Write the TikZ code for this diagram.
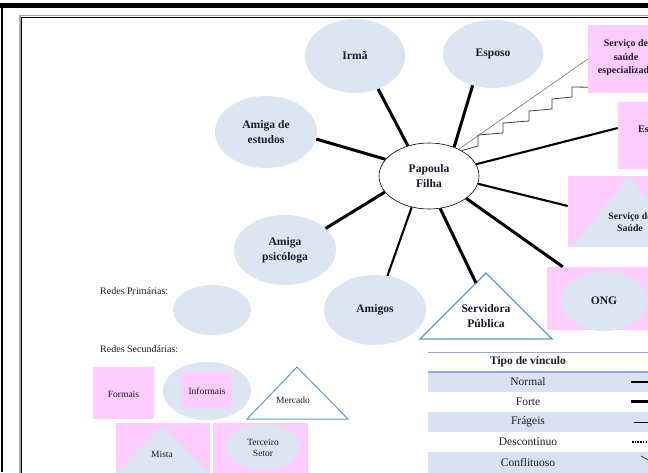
\documentclass[tikz,border=0pt]{standalone}
\usepackage{fontspec}
\setmainfont{Liberation Serif}
\usetikzlibrary{shapes.geometric,calc}
\definecolor{bubble}{HTML}{DCE6F2}
\definecolor{pinkfill}{HTML}{FFCCFF}
\definecolor{triblue}{HTML}{5B9BD5}
\definecolor{rowfill}{HTML}{D9E2F3}
\definecolor{rulecol}{HTML}{8EAADB}
\definecolor{ink}{HTML}{1A1A2E}
\newcommand\mainlbl{\fontsize{11.6}{15}\selectfont\bfseries}
\newcommand\keylbl{\fontsize{9.5}{11}\selectfont}
\newcommand\tablbl{\fontsize{11.5}{13}\selectfont}
\tikzset{
  bub/.style={ellipse, fill=bubble, draw=none, inner sep=0pt, align=center,
    text=ink, font=\mainlbl},
  pinkbox/.style={rectangle, fill=pinkfill, draw=none, inner sep=0pt},
  lbl/.style={inner sep=0pt, align=center, text=ink},
  linkthick/.style={line width=3pt},
  linkmed/.style={line width=2.1pt},
  linkthin/.style={line width=0.6pt, draw=black!55},
  linkzig/.style={line width=0.8pt, draw=black!75, line join=miter},
  tri/.style={draw=triblue, line width=1.2pt, fill=white, line join=miter},
}
\begin{document}
\begin{tikzpicture}[x=1pt,y=-1pt]
\useasboundingbox (0,0) rectangle (648,472);
\clip (0,0) rectangle (648,472);
\fill[white] (0,0) rectangle (648,472);

% page frame
\draw[line width=5pt] (0,5.5) -- (648,5.5);
\draw[line width=2.4pt] (2.2,3) -- (2.2,472);
\draw[black!35, line width=1.6pt] (19.8,480) -- (19.8,15.6) -- (660,15.6);
\draw[line width=1.6pt] (21.6,480) -- (21.6,17.6) -- (660,17.6);

% primary network
\node[bub, minimum width=100pt, minimum height=74pt] (irma) at (355,56) {Irmã};
\node[bub, minimum width=100pt, minimum height=68pt] (esposo) at (493,54) {Esposo};
\node[bub, minimum width=102pt, minimum height=72pt] (estudos) at (266,132) {Amiga de\\estudos};
\node[bub, minimum width=102pt, minimum height=70pt] (psic) at (285,250) {Amiga\\psicóloga};
\node[bub, minimum width=102pt, minimum height=70pt] (amigos) at (375,310) {Amigos};

% secondary network
\node[pinkbox, minimum width=76pt, minimum height=68pt] (esp) at (626,59) {};
\node[lbl, font=\fontsize{10}{13.5}\selectfont\bfseries] (espt) at (626,58) {Serviço de\\saúde\\especializado};

\node[pinkbox, minimum width=74pt, minimum height=67pt] (esc) at (655,135.5) {};
\node[lbl, font=\fontsize{10}{12}\selectfont\bfseries] (esct) at (652,129) {Escola};

\node[pinkbox, minimum width=122pt, minimum height=71pt] (ss) at (629,211.5) {};
\fill[bubble] (629,176) -- (686,247) -- (572,247) -- cycle;
\node[lbl, font=\fontsize{9.8}{11.5}\selectfont\bfseries] (sst) at (630,222) {Serviço de\\Saúde};

\node[pinkbox, minimum width=114pt, minimum height=63pt] (ong) at (604,298.5) {};
\node[bub, minimum width=86pt, minimum height=60pt] (ongt) at (604,301) {ONG};

\draw[tri] (486,273) -- (552,339) -- (420,339) -- cycle;
\coordinate (servL) at (476,283);
\node[lbl, font=\mainlbl] (serv) at (486,316) {Servidora\\Pública};

% centre
\node[ellipse, draw=black, line width=0.6pt, fill=white, inner sep=0pt,
  minimum width=100pt, minimum height=66pt, align=center, text=ink,
  font=\mainlbl] (pap) at (429,176) {Papoula\\Filha};

% links
\draw[linkthick] (pap.125) -- (irma.305);
\draw[linkthick] (pap.49) -- (esposo.237);
\draw[linkthin] (pap.42) -- (esp.west);
\draw[linkzig] (pap.38) -- (478,146) -- (478,135) -- (503,133) -- (503,123)
  -- (529,121) -- (529,111) -- (552,109) -- (552,99) -- (572,97) -- (572,87)
  -- ([yshift=6pt]esp.south west);
\draw[linkmed] (pap.14) -- ([yshift=7.5pt]esc.west);
\draw[linkmed] (pap.-9) -- ([yshift=5.5pt]ss.west);
\draw[linkthick] (pap.-31) -- ([xshift=16pt]ong.north west);
\draw[linkthick] (pap.-71) -- (servL);
\draw[linkmed] (pap.241) -- (amigos.70);
\draw[linkthick] (pap.200) -- (psic.28);
\draw[linkthick] (pap.159) -- (estudos.-8);

% key of network types
\node[lbl, anchor=west, font=\fontsize{10}{12}\selectfont] (kprim) at (100,291) {Redes Primárias:};
\node[ellipse, fill=bubble, inner sep=0pt, minimum width=78pt, minimum height=50pt] (kell) at (212,310) {};
\node[lbl, anchor=west, font=\fontsize{10}{12}\selectfont] (ksec) at (100,349) {Redes Secundárias:};

\node[pinkbox, minimum width=61pt, minimum height=52pt] (kform) at (123.5,393) {};
\node[lbl, font=\keylbl] (kformt) at (123.5,394) {Formais};

\node[ellipse, fill=bubble, inner sep=0pt, minimum width=88pt, minimum height=58pt] (kinf) at (207,391) {};
\node[pinkbox, minimum width=51pt, minimum height=36pt] (kinfb) at (206.5,390) {};
\node[lbl, font=\keylbl] (kinft) at (207,391) {Informais};

\draw[tri, line width=1pt] (297,367) -- (348,419) -- (247,419) -- cycle;
\node[lbl, font=\keylbl] (kmerc) at (293,400) {Mercado};

\node[pinkbox, minimum width=94pt, minimum height=60pt] (kmista) at (163,453) {};
\fill[bubble] (162,426) -- (212,476) -- (112,476) -- cycle;
\node[lbl, font=\keylbl] (kmistat) at (162,454) {Mista};

\node[pinkbox, minimum width=95pt, minimum height=60pt] (kter) at (260.5,453) {};
\node[ellipse, fill=bubble, inner sep=0pt, minimum width=74pt, minimum height=46pt] (kterell) at (263,447) {};
\node[lbl, font=\fontsize{9.5}{11}\selectfont] (kters) at (263,447.5) {Terceiro\\Setor};

% table of link types
\fill[rowfill] (428,372) rectangle (660,392);
\fill[rowfill] (428,412) rectangle (660,432);
\fill[rowfill] (428,452) rectangle (660,480);
\draw[rulecol, line width=0.8pt] (428,352) -- (660,352);
\draw[rulecol, line width=1.6pt] (428,372) -- (660,372);
\node[lbl, font=\tablbl\bfseries] (thead) at (528,362) {Tipo de vínculo};
\node[lbl, font=\tablbl] (tnorm) at (528,382) {Normal};
\node[lbl, font=\tablbl] (tforte) at (528,402) {Forte};
\node[lbl, font=\tablbl] (tfrag) at (528,422) {Frágeis};
\node[lbl, font=\tablbl] (tdesc) at (528,442) {Descontínuo};
\node[lbl, font=\tablbl] (tconf) at (528,462) {Conflituoso};
\draw[line width=2pt] (631,382) -- (660,382);
\draw[line width=3pt] (631,401.5) -- (660,401.5);
\draw[line width=1pt] (634,422) -- (660,422);
\draw[line width=1.5pt, dash pattern=on 1.5pt off 1.2pt] (632,442) -- (660,442);
\draw[line width=0.8pt, draw=black!75] (641,456) -- (650,461);
\end{tikzpicture}
\end{document}
